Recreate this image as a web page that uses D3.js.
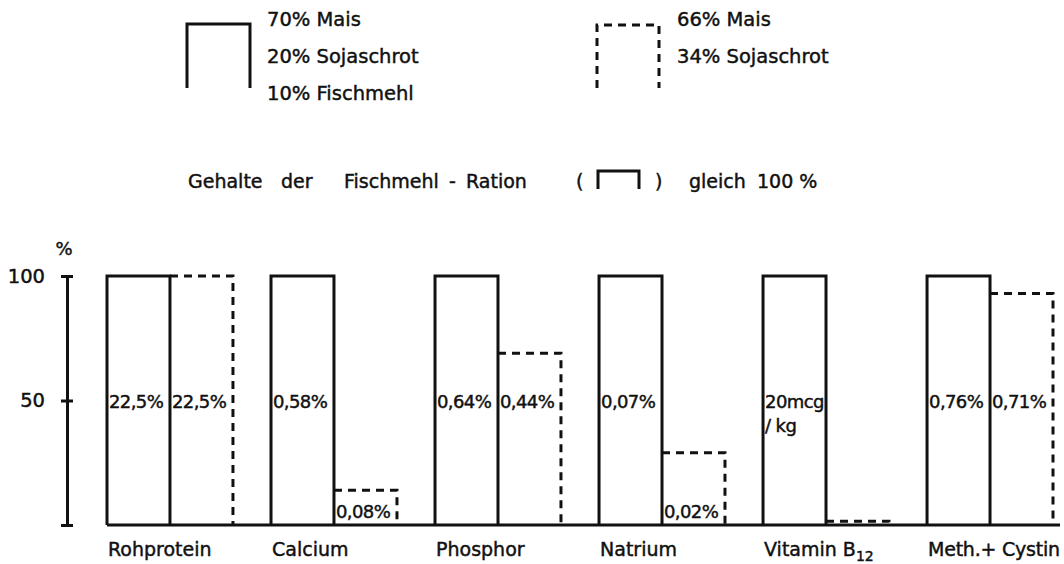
<!DOCTYPE html>
<html>
<head>
<meta charset="utf-8">
<script src="https://cdn.jsdelivr.net/npm/d3@7"></script>
<style>
  html, body { margin: 0; padding: 0; background: #fff; }
  svg { display: block; }
  text { font-family: "DejaVu Sans", sans-serif; fill: #111; stroke: #111; stroke-width: 0.45px; }
</style>
</head>
<body>
<svg id="chart" width="1064" height="564"></svg>
<script>
// ---- data ----
const categories = ["Rohprotein", "Calcium", "Phosphor", "Natrium", "Vitamin B12", "Meth.+ Cystin"];
const fischmehlValues = [100, 100, 100, 100, 100, 100];
const sojaValues = [100, 14, 69, 29, 1.5, 93];
const fischmehlLabels = ["22,5%", "0,58%", "0,64%", "0,07%", "20mcg|/ kg", "0,76%"];
const sojaLabels = ["22,5%", "0,08%", "0,44%", "0,02%", "", "0,71%"];
const yTickValues = [0, 50, 100];
const yTickLabels = ["", "50", "100"];
const legendFischmehl = ["70% Mais", "20% Sojaschrot", "10% Fischmehl"];
const legendSoja = ["66% Mais", "34% Sojaschrot"];
const titleParts = ["Gehalte", "der", "Fischmehl", "-", "Ration", "(", ")", "gleich", "100 %"];
const series = ["fischmehl", "soja"];

const svg = d3.select("#chart");
const ink = "#111";
const W = 1064;

const x0 = d3.scaleBand().domain(categories).range([107, 1053]).paddingInner(0.232).paddingOuter(0);
const x1 = d3.scaleBand().domain(series).range([0, x0.bandwidth()]).padding(0);
const y = d3.scaleLinear().domain([0, 100]).range([525, 276]);

// ---- legend ----
function openBox(g, x, yTop, w, h, dashed) {
  g.append("path")
    .attr("d", `M${x},${yTop + h} V${yTop} H${x + w} V${yTop + h}`)
    .attr("fill", "none").attr("stroke", ink).attr("stroke-width", 3)
    .attr("stroke-dasharray", dashed ? "8,6" : null);
}
const lg = svg.append("g");
openBox(lg, 187, 24, 63, 64, false);
legendFischmehl.forEach((t, i) => {
  lg.append("text").attr("x", 267).attr("y", 26 + i * 37).attr("font-size", 19.5).text(t);
});
openBox(lg, 597, 25, 62, 63, true);
legendSoja.forEach((t, i) => {
  lg.append("text").attr("x", 677).attr("y", 26 + i * 37).attr("font-size", 19.5).text(t);
});

// ---- title ----
const titleY = 188;
const titleX = [188, 281, 344, 449, 466, 576, 655, 689, 757];
const tg = svg.append("g");
titleParts.forEach((t, i) => tg.append("text").attr("x", titleX[i]).attr("y", titleY)
  .attr("font-size", 19).text(t));
openBox(tg, 598, 171, 41, 18, false);

// ---- y axis ----
const axisG = svg.append("g").attr("transform", "translate(67,0)");
axisG.call(d3.axisLeft(y).tickValues(yTickValues).tickSize(0).tickPadding(22)
  .tickFormat((d, i) => yTickLabels[i]));
axisG.select(".domain").attr("stroke", ink).attr("stroke-width", 3);
axisG.selectAll(".tick text").attr("font-size", 19.5).attr("fill", ink)
  .attr("stroke", ink).attr("stroke-width", 0.45)
  .attr("font-family", "DejaVu Sans, sans-serif");
axisG.selectAll(".tick").append("line")
  .attr("x1", -6).attr("x2", 6).attr("stroke", ink).attr("stroke-width", 3);
svg.append("text").attr("x", 64).attr("y", 255).attr("text-anchor", "middle")
  .attr("font-size", 18).text("%");

// ---- bars ----
const groups = svg.append("g").selectAll("g").data(categories).join("g")
  .attr("transform", d => `translate(${x0(d)},0)`);

groups.append("path")
  .attr("d", (d, i) => {
    const l = x1("fischmehl"), r = l + x1.bandwidth();
    return `M${l},${y(0)} V${y(fischmehlValues[i])} H${r} V${y(0)}`;
  })
  .attr("fill", "none").attr("stroke", ink).attr("stroke-width", 3);

groups.append("path")
  .attr("d", (d, i) => {
    const l = x1("soja"), r = l + x1.bandwidth();
    return `M${l},${y(sojaValues[i])} H${r} V${y(0)}`;
  })
  .attr("fill", "none").attr("stroke", ink).attr("stroke-width", 3)
  .attr("stroke-dasharray", "8,6");

// labels inside bars
groups.each(function (d, i) {
  const g = d3.select(this);
  const parts = fischmehlLabels[i].split("|");
  parts.forEach((p, k) => {
    g.append("text").attr("x", x1("fischmehl") + 2).attr("y", y(50) + 7 + k * 24)
      .attr("font-size", 18).attr("letter-spacing", -0.6).text(p);
  });
  if (sojaLabels[i]) {
    const yy = sojaValues[i] >= 50 ? y(50) + 7 : y(0) - 7;
    g.append("text").attr("x", x1("soja") + 2).attr("y", yy)
      .attr("font-size", 18).attr("letter-spacing", -0.6).text(sojaLabels[i]);
  }
});

// baseline
svg.append("line").attr("x1", 107).attr("x2", 1060).attr("y1", y(0)).attr("y2", y(0))
  .attr("stroke", ink).attr("stroke-width", 3);

// category labels
groups.append("text")
  .attr("x", 1).attr("y", 556).attr("font-size", 19)
  .each(function (d) {
    const t = d3.select(this);
    const m = d.match(/^(.*B)(\d+)$/);
    if (m) {
      t.append("tspan").text(m[1]);
      t.append("tspan").attr("dy", 5).attr("font-size", 14).text(m[2]);
    } else {
      t.text(d);
    }
    // keep label inside the picture
    const avail = W - 4 - (x0(d) + 1);
    const len = this.getComputedTextLength();
    if (len > avail) {
      t.attr("textLength", avail).attr("lengthAdjust", "spacing");
    }
  });
</script>
</body>
</html>
